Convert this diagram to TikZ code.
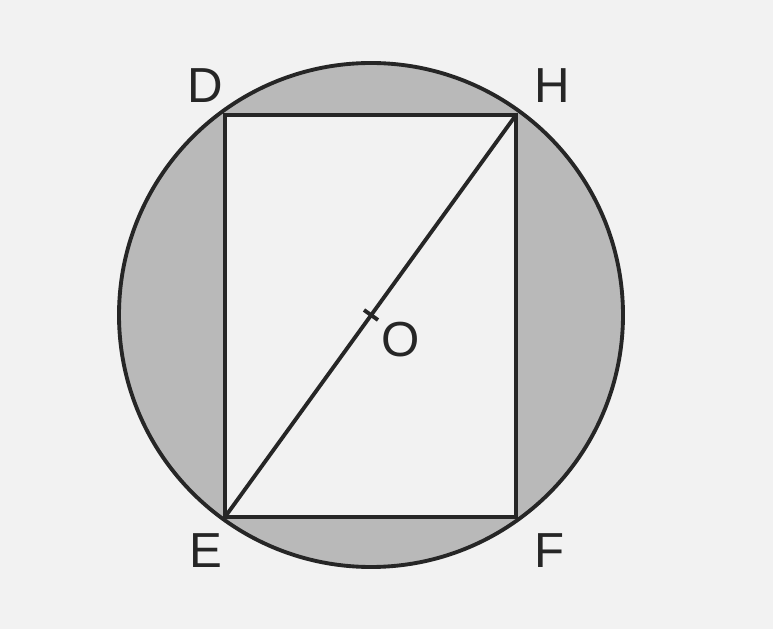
\documentclass[tikz,border=0pt]{standalone}
\usepackage{fontspec}
\setmainfont{Liberation Sans}
\usetikzlibrary{positioning, calc}
\definecolor{paper}{HTML}{F2F2F2}
\definecolor{segmentgray}{HTML}{B9B9B9}

\begin{document}
\begin{tikzpicture}[every node/.style={text=black!85, font=\fontsize{14}{16}\selectfont},
                    edge/.style={line width=1.1pt, black!85}]
                \fill[paper] (0, 0) rectangle (7.73, 6.29);
                \useasboundingbox (0, 0) rectangle (7.73, 6.29);
                \coordinate (o) at (3.71, 3.14);
                \coordinate (d) at (2.25, 5.14);
                \coordinate (h) at (5.16, 5.14);
                \coordinate (e) at (2.25, 1.12);
                \coordinate (f) at (5.16, 1.12);
                \fill[segmentgray] (o) circle (2.52);
                \fill[paper] (d) rectangle (f);
                \draw[edge] (o) circle (2.52);
                \draw[edge] (d) -- (h) -- (f) -- (e) -- cycle;
                \draw[edge] (e) -- (h);
                \draw[edge] ($(o)+(-0.07, 0.05)$) -- ($(o)+(0.07, -0.05)$);
                \node[above left=0.0cm and -0.1cm of d] (ld) {D};
                \node[above right=0.0cm and 0.06cm of h] (lh) {H};
                \node[below left=0.04cm and -0.1cm of e] (le) {E};
                \node[below right=0.04cm and 0.06cm of f] (lf) {F};
                \node[below right=-0.05cm and -0.02cm of o] (lo) {O};
            \end{tikzpicture}
\end{document}
